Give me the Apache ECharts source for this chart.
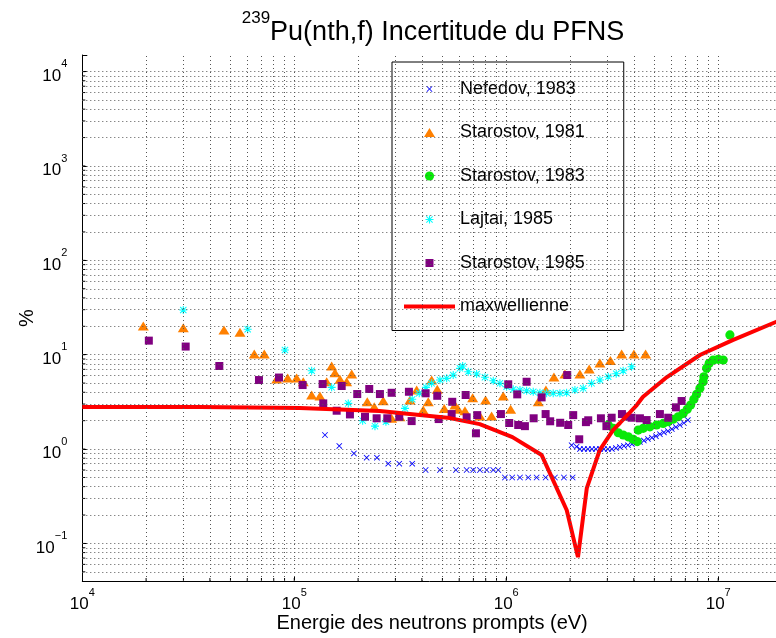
<!DOCTYPE html>
<html>
<head>
<meta charset="utf-8">
<script src="https://cdn.jsdelivr.net/npm/echarts@6/dist/echarts.min.js"></script>
<style>
  html, body { margin: 0; padding: 0; background: #fff; }
  #chart { width: 776px; height: 638px; }
</style>
</head>
<body>
<div id="chart"></div>
<script>
// Energy (eV) and relative uncertainty (%) for each data set
const nefedovE = [1.396e5, 1.631e5, 1.912e5, 2.195e5, 2.455e5, 2.776e5, 3.129e5, 3.602e5, 4.167e5, 4.868e5,
  5.790e5, 6.505e5, 6.988e5, 7.514e5, 8.08e5, 8.686e5, 9.17e5, 9.86e5, 1.067e6, 1.161e6,
  1.270e6, 1.391e6, 1.534e6, 1.697e6, 1.872e6, 2.057e6,
  2.034e6, 2.148e6, 2.226e6, 2.325e6, 2.429e6, 2.537e6, 2.650e6, 2.767e6, 2.890e6, 3.018e6,
  3.152e6, 3.293e6, 3.438e6, 3.591e6, 3.751e6, 3.917e6, 4.091e6, 4.273e6, 4.462e6, 4.660e6,
  4.868e6, 5.083e6, 5.309e6, 5.545e6, 5.790e6, 6.047e6, 6.316e6, 6.596e6, 6.888e6, 7.194e6];
const nefedovV = [1.41, 1.08, 0.90, 0.81, 0.81, 0.70, 0.70, 0.70, 0.60, 0.60,
  0.60, 0.60, 0.60, 0.60, 0.60, 0.60, 0.60, 0.50, 0.50, 0.50,
  0.50, 0.50, 0.50, 0.50, 0.50, 0.50,
  1.10, 1.06, 1.00, 1.00, 1.00, 1.00, 1.00, 1.00, 1.00, 1.00,
  1.00, 1.025, 1.05, 1.08, 1.10, 1.13, 1.16, 1.19, 1.23, 1.28,
  1.32, 1.37, 1.44, 1.50, 1.55, 1.63, 1.71, 1.80, 1.89, 2.03];

const staro81E = [1.94e4, 2.995e4, 4.66e4, 5.545e4, 6.476e4, 7.219e4, 8.26e4, 9.31e4, 1.026e5, 1.103e5,
  1.208e5, 1.322e5, 1.422e5, 1.501e5, 1.556e5, 1.643e5, 1.767e5, 1.866e5, 2.21e5, 2.384e5,
  2.629e5, 2.88e5, 3.152e5, 3.514e5, 3.78e5, 4.06e5, 4.287e5, 4.448e5, 4.727e5, 5.10e5,
  5.728e5, 5.937e5, 6.386e5, 6.944e5, 7.516e5, 7.99e5, 8.53e5, 9.68e5, 1.049e6, 1.416e6,
  1.539e6, 1.679e6, 1.892e6, 2.226e6, 2.463e6, 2.767e6, 3.101e6, 3.503e6, 4.003e6, 4.545e6];
const staro81V = [20.2, 19.3, 18.3, 17.3, 10.2, 10.2, 5.53, 5.66, 5.66, 5.17,
  3.74, 3.65, 5.17, 7.59, 6.45, 5.48, 5.17, 6.24, 3.17, 2.81,
  3.25, 2.12, 2.20, 3.31, 4.22, 2.59, 3.17, 5.39, 4.30, 2.70,
  2.93, 2.64, 2.55, 3.50, 2.24, 3.31, 2.24, 3.65, 2.64, 3.17,
  4.22, 5.80, 6.24, 6.24, 7.05, 8.17, 8.68, 10.2, 10.2, 10.2];

const staro83E = [3.028e6, 3.197e6, 3.376e6, 3.564e6, 3.763e6, 3.973e6, 4.149e6, 4.195e6, 4.429e6, 4.763e6,
  5.122e6, 5.503e6, 5.81e6, 6.135e6, 6.477e6, 6.839e6, 7.143e6, 7.41e6, 7.68e6, 7.91e6,
  8.20e6, 8.49e6, 8.56e6, 8.82e6, 9.07e6, 9.47e6, 1.0e7, 1.056e7, 1.136e7];
const staro83V = [1.80, 1.66, 1.49, 1.41, 1.35, 1.27, 1.20, 1.59, 1.66, 1.72,
  1.80, 1.87, 1.95, 2.07, 2.20, 2.39, 2.64, 2.93, 3.37, 3.80,
  4.40, 5.17, 5.84, 7.17, 8.11, 8.79, 8.94, 8.79, 16.2];

const lajtaiE = [2.995e4, 6.03e4, 9.04e4, 1.208e5, 1.501e5, 1.798e5, 2.102e5, 2.403e5, 2.707e5, 3.329e5,
  3.602e5, 3.887e5, 4.181e5, 4.448e5, 4.868e5, 5.236e5, 5.623e5, 6.048e5, 6.228e5, 6.619e5,
  7.25e5, 7.937e5, 8.686e5, 9.339e5, 1.004e6, 1.079e6, 1.161e6, 1.248e6, 1.341e6, 1.442e6,
  1.551e6, 1.666e6, 1.792e6, 1.927e6, 2.109e6, 2.308e6, 2.528e6, 2.767e6, 3.028e6, 3.303e6,
  3.563e6, 3.904e6];
const lajtaiV = [29.8, 18.6, 11.2, 6.77, 4.51, 3.05, 2.00, 1.75, 1.95, 2.70,
  3.37, 3.90, 4.51, 4.97, 5.39, 5.62, 6.09, 7.17, 7.59, 6.60,
  6.24, 5.76, 5.30, 4.97, 4.58, 4.30, 4.22, 4.15, 4.05, 3.95,
  3.90, 3.90, 3.90, 3.95, 4.22, 4.40, 4.97, 5.39, 5.84, 6.29,
  6.77, 7.46];

const staro85E = [2.06e4, 3.074e4, 4.43e4, 6.815e4, 8.47e4, 1.095e5, 1.361e5, 1.37e5, 1.585e5, 1.674e5,
  1.831e5, 1.982e5, 2.156e5, 2.258e5, 2.447e5, 2.536e5, 2.747e5, 2.88e5, 3.129e5, 3.475e5,
  3.579e5, 4.167e5, 4.727e5, 4.80e5, 5.527e5, 5.563e5, 6.435e5, 6.505e5, 7.196e5, 7.298e5,
  9.44e5, 1.022e6, 1.033e6, 1.127e6, 1.139e6, 1.225e6, 1.248e6, 1.347e6, 1.469e6, 1.534e6,
  1.612e6, 1.797e6, 1.94e6, 1.961e6, 2.07e6, 2.21e6, 2.377e6, 2.437e6, 2.797e6, 2.969e6,
  3.143e6, 3.515e6, 3.709e6, 3.905e6, 4.273e6, 4.596e6, 5.309e6, 5.81e6, 6.316e6, 6.72e6];
const staro85V = [14.1, 12.2, 7.59, 5.39, 5.73, 4.77, 4.89, 3.05, 2.55, 4.66,
  2.33, 3.83, 2.20, 4.33, 2.12, 3.83, 2.12, 3.95, 2.20, 4.05,
  1.98, 3.90, 3.67, 2.08, 2.35, 3.17, 3.74, 2.17, 1.47, 2.29,
  2.35, 4.86, 1.89, 3.80, 1.80, 1.75, 5.17, 2.12, 3.53, 2.35,
  1.97, 1.90, 6.09, 1.80, 2.29, 1.27, 1.93, 2.02, 2.12, 1.75,
  2.15, 2.35, 2.21, 2.15, 2.12, 2.03, 2.35, 2.15, 2.77, 3.23];

const maxwE = [1e4, 3.59e4, 1.06e5, 2.53e5, 5.42e5, 7.5e5, 1.07e6, 1.47e6, 1.93e6, 2.18e6,
  2.40e6, 2.76e6, 3.19e6, 3.44e6, 4.13e6, 4.41e6, 5.73e6, 8.2e6, 1.17e7, 1.87e7, 2e7];
const maxwV = [2.79, 2.79, 2.72, 2.53, 2.13, 1.84, 1.34, 0.864, 0.225, 0.0716,
  0.386, 0.976, 1.59, 1.89, 2.93, 3.56, 5.80, 9.93, 14.3, 22.2, 23.3];

const seriesNames = ['Nefedov, 1983', 'Starostov, 1981', 'Starostov, 1983', 'Lajtai, 1985', 'Starostov, 1985', 'maxwellienne'];

// Axis ranges and decade ticks
const xRange = [1e4, 2e7];
const yRange = [0.04, 1.5e4];
const xDecades = [4, 5, 6, 7];
const yDecades = [-2, -1, 0, 1, 2, 3, 4];

const FONT = "'Liberation Sans', Arial, Helvetica, sans-serif";

const pairs = (xs, ys) => xs.map((x, i) => [x, ys[i]]);

// Log-spaced grid values (1..9 x 10^n) inside each axis range
function gridValues(decades, range) {
  const out = [];
  decades.forEach(n => {
    for (let k = 1; k <= 9; k++) {
      const v = k * Math.pow(10, n);
      if (v > range[0] * 1.0001 && v < range[1] * 0.9999) out.push(v);
    }
  });
  return out;
}
const xGrid = gridValues(xDecades, xRange);
const yGrid = gridValues(yDecades, yRange);

// Marker shapes, each drawn inside a 12x12 box (the leading moves fix the box)
const BOX = 'path://M0,0 M12,12 ';
const crossPath = BOX + 'M3.6,3 L6,5.4 L8.4,3 L9,3.6 L6.6,6 L9,8.4 L8.4,9 L6,6.6 L3.6,9 L3,8.4 L5.4,6 L3,3.6 Z';
const trianglePath = BOX + 'M6,1.5 L11.5,10.5 L0.5,10.5 Z';
const circlePath = BOX + 'M1.4,6 A4.6,4.6 0 1 1 10.6,6 A4.6,4.6 0 1 1 1.4,6 Z';
const starPath = BOX +
  'M5.45,2 L6.55,2 L6.55,10 L5.45,10 Z M2,5.45 L10,5.45 L10,6.55 L2,6.55 Z ' +
  'M3.2,2.5 L6,5.3 L8.8,2.5 L9.5,3.2 L6.7,6 L9.5,8.8 L8.8,9.5 L6,6.7 L3.2,9.5 L2.5,8.8 L5.3,6 L2.5,3.2 Z';
const squarePath = BOX + 'M2,2 L10,2 L10,10 L2,10 Z';

function powLabel(v) {
  const e = Math.log10(v);
  const r = Math.round(e);
  if (Math.abs(e - r) > 1e-6) return '';
  const exp = r < 0 ? '\u2212' + (-r) : String(r);
  return '{b|10}{e|' + exp + '}';
}
const labelRich = {
  b: { fontSize: 17, fontFamily: FONT, color: '#000', lineHeight: 26, verticalAlign: 'bottom' },
  e: { fontSize: 11, fontFamily: FONT, color: '#000', lineHeight: 14, verticalAlign: 'top' }
};

const chart = echarts.init(document.getElementById('chart'), null, { renderer: 'canvas' });

const scatterBase = (name, data, symbol, color) => ({
  name, type: 'scatter', data, symbol, symbolSize: 12, z: 3, silent: true,
  itemStyle: { color, opacity: 1, borderWidth: 0 },
  emphasis: { disabled: true }
});

// Short inward minor ticks along the left and bottom axes
const minorTickSeries = (data, horizontal) => ({
  type: 'custom', silent: true, z: 2, data, clip: false,
  renderItem: (params, api) => {
    const p = api.coord([api.value(0), api.value(1)]);
    const shape = horizontal
      ? { x1: p[0], y1: p[1], x2: p[0] + 3, y2: p[1] }
      : { x1: p[0], y1: p[1], x2: p[0], y2: p[1] - 3 };
    return { type: 'line', shape, style: { stroke: '#000', lineWidth: 1 } };
  }
});

chart.setOption({
  animation: false,
  backgroundColor: '#fff',
  graphic: [{
    type: 'text', x: 433, y: 28, silent: true,
    style: {
      text: '{s|239}{m|Pu(nth,f) Incertitude du PFNS}',
      align: 'center', verticalAlign: 'middle', textAlign: 'center', textVerticalAlign: 'middle',
      rich: {
        s: { fontSize: 17, fontFamily: FONT, color: '#000', lineHeight: 14, verticalAlign: 'top' },
        m: { fontSize: 27, fontFamily: FONT, color: '#000', lineHeight: 36, verticalAlign: 'bottom' }
      }
    }
  }],
  grid: { left: 82.3, top: 55, right: -6, bottom: 57, containLabel: false, outerBoundsMode: 'none' },
  legend: {
    orient: 'vertical', left: 392, top: 62,
    padding: [17, 39, 14, 10],
    backgroundColor: '#fff', borderColor: '#000', borderWidth: 1, borderRadius: 0,
    itemWidth: 51, itemHeight: 12, itemGap: 23.5,
    selectedMode: false,
    textStyle: { fontSize: 18, fontFamily: FONT, color: '#000', lineHeight: 20 },
    data: [
      { name: seriesNames[0] }, { name: seriesNames[1] }, { name: seriesNames[2] },
      { name: seriesNames[3] }, { name: seriesNames[4] },
      { name: seriesNames[5], itemStyle: { opacity: 0 }, lineStyle: { width: 4, color: '#FF0000' } }
    ]
  },
  xAxis: {
    type: 'log', logBase: 10, min: xRange[0], max: xRange[1],
    name: 'Energie des neutrons prompts (eV)', nameLocation: 'middle', nameGap: 32,
    nameMoveOverlap: false,
    nameTextStyle: { fontSize: 20, fontFamily: FONT, color: '#000' },
    axisLine: { show: true, lineStyle: { color: '#000', width: 1 } },
    axisTick: { show: true, inside: true, length: 5, lineStyle: { color: '#000' } },
    axisLabel: { formatter: powLabel, rich: labelRich, margin: 6 },
    splitLine: { show: false }, minorTick: { show: false }
  },
  yAxis: {
    type: 'log', logBase: 10, min: yRange[0], max: yRange[1],
    name: '%', nameLocation: 'middle', nameGap: 45, nameRotate: 90,
    nameMoveOverlap: false,
    nameTextStyle: { fontSize: 20, fontFamily: FONT, color: '#000' },
    axisLine: { show: true, lineStyle: { color: '#000', width: 1 } },
    axisTick: { show: true, inside: true, length: 5, lineStyle: { color: '#000' } },
    axisLabel: { formatter: powLabel, rich: labelRich, margin: 15 },
    splitLine: { show: false }, minorTick: { show: false }
  },
  series: [
    {
      name: 'grid', type: 'scatter', data: [], z: 1, silent: true,
      markLine: {
        silent: true, animation: false, symbol: ['none', 'none'],
        label: { show: false }, emphasis: { disabled: true },
        lineStyle: { color: '#555', type: [1, 3], width: 1 },
        data: xGrid.map(v => ({ xAxis: v })).concat(yGrid.map(v => ({ yAxis: v })))
      }
    },
    minorTickSeries(yGrid.map(v => [xRange[0], v]), true),
    minorTickSeries(xGrid.map(v => [v, yRange[0]]), false),
    scatterBase(seriesNames[0], pairs(nefedovE, nefedovV), crossPath, '#0000FF'),
    scatterBase(seriesNames[1], pairs(staro81E, staro81V), trianglePath, '#FF8000'),
    scatterBase(seriesNames[2], pairs(staro83E, staro83V), circlePath, '#08E808'),
    scatterBase(seriesNames[3], pairs(lajtaiE, lajtaiV), starPath, '#00FFFF'),
    scatterBase(seriesNames[4], pairs(staro85E, staro85V), squarePath, '#800080'),
    {
      name: seriesNames[5], type: 'line', data: pairs(maxwE, maxwV), z: 4, silent: true,
      symbol: 'none', showSymbol: false, smooth: false,
      lineStyle: { color: '#FF0000', width: 4 },
      itemStyle: { color: '#FF0000' },
      emphasis: { disabled: true }
    }
  ]
});
</script>
</body>
</html>
